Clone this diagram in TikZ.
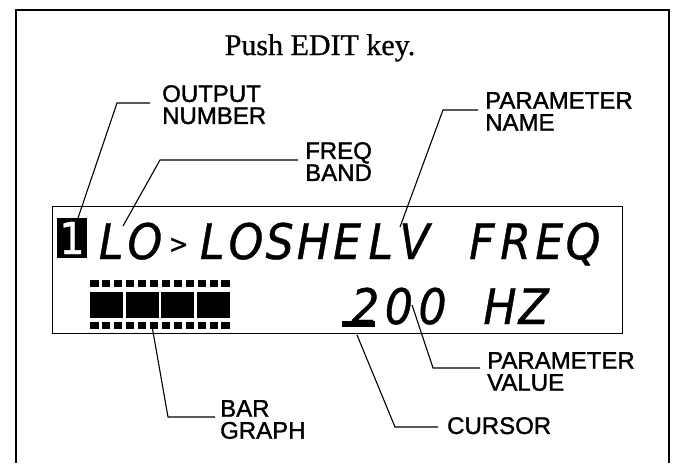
\documentclass[tikz,border=0pt]{standalone}
\usepackage{fontspec}
\setmainfont{Liberation Serif}[FakeBold=0.8]
\newfontfamily\lblfont{Liberation Sans}[FakeBold=1.4]
\newfontfamily\lcdfont{DejaVu Sans}[FakeStretch=0.9,FakeBold=0.8]
\newcommand{\LC}[1]{\makebox[33.7pt]{#1}}
\newcommand{\lcdgt}{\raisebox{6pt}{\fontsize{26}{26}\selectfont >}}
\tikzset{
  lbl/.style={font=\lblfont\fontsize{24}{22}\selectfont, align=left, anchor=north west, inner sep=0pt},
  leader/.style={line width=1.1pt},
  lcdtext/.style={font=\lcdfont\itshape\fontsize{49}{49}\selectfont, anchor=base west, inner sep=0pt},
}
\begin{document}
\begin{tikzpicture}[x=1pt,y=-1pt]
\useasboundingbox (0,0) rectangle (676,463);
% outer frame
\draw[line width=2pt] (16,463) -- (16,10) -- (669,10) -- (669,463);
% title
\node[font=\fontsize{30}{30}\selectfont, anchor=base, inner sep=0pt] (title) at (320,55) {Push EDIT key.};
% LCD
\node[draw, line width=1.3pt, minimum width=570pt, minimum height=127pt, anchor=north west, inner sep=0pt] (lcd) at (52,206) {};
\node[fill=black, text=white, minimum width=30pt, minimum height=40pt, inner sep=0pt, font=\lcdfont\fontsize{44}{44}\selectfont] (num) at (72,238) {1};
\node[lcdtext] (line1) at (94.15,259) {\LC{L}\LC{O}\LC{\lcdgt}\LC{L}\LC{O}\LC{S}\LC{H}\LC{E}\LC{L}\LC{V}\LC{ }\LC{F}\LC{R}\LC{E}\LC{Q}};
\node[lcdtext] (line2) at (348.15,324) {\LC{2}\LC{0}\LC{0}\LC{ }\LC{H}\LC{Z}};
% cursor bar
\fill (342,321) rectangle (375,327);
% bar graph
\foreach \i in {0,...,11} {
  \fill (90+\i*11.95,280) rectangle ++(8.5,7);
  \fill (90+\i*11.95,322) rectangle ++(8.5,7);
}
\foreach \i in {0,...,3} \fill (90+\i*35.7,292) rectangle ++(33,26);
% labels
\node[lbl] (onum) at (162,85) {OUTPUT\\NUMBER};
\node[lbl] (fband) at (305,142) {FREQ\\BAND};
\node[lbl] (pname) at (485,92) {PARAMETER\\NAME};
\node[lbl] (pval) at (487,352) {PARAMETER\\VALUE};
\node[lbl] (curs) at (447,417) {CURSOR};
\node[lbl] (bar) at (220,400) {BAR\\GRAPH};
% tips
\coordinate (tOnum) at (78,218);
\coordinate (tFband) at (123,226);
\coordinate (tPname) at (400,227);
\coordinate (tPval) at (412,305);
\coordinate (tCurs) at (357,335);
\coordinate (tBar) at (152,326);
% leaders
\draw[leader] ([xshift=-12pt,yshift=-18pt]onum.north west) -- ++(-33,0) -- (tOnum);
\draw[leader] ([xshift=-7pt,yshift=-18pt]fband.north west) -- ++(-138,0) -- (tFband);
\draw[leader] ([xshift=-7pt,yshift=-18pt]pname.north west) -- ++(-35,0) -- (tPname);
\draw[leader] ([xshift=-7pt,yshift=-16pt]pval.north west) -- ++(-47,0) -- (tPval);
\draw[leader] ([xshift=-9pt,yshift=-10pt]curs.north west) -- ++(-43,0) -- (tCurs);
\draw[leader] ([xshift=-5pt,yshift=-17pt]bar.north west) -- ++(-47,0) -- (tBar);
\end{tikzpicture}
\end{document}
